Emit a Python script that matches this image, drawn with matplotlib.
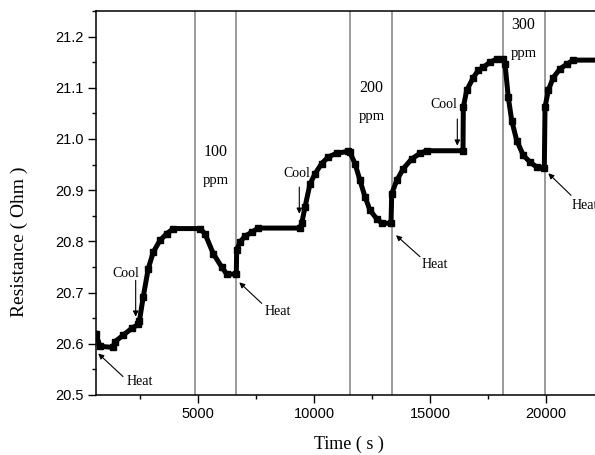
import matplotlib
matplotlib.use("Agg")
import matplotlib.pyplot as plt
from matplotlib.ticker import MultipleLocator

# resistance trace
time_s = [583, 756, 1317, 1403, 1762, 2124, 2409, 2461, 2625, 2841, 3057, 3346,
          3636, 3921, 5073, 5289, 5648, 6010, 6226, 6641, 6658, 6801, 7017, 7306,
          7591, 9391, 9465, 9607, 9823, 10039, 10328, 10613, 10976, 11477, 11550,
          11766, 11982, 12198, 12414, 12703, 12919, 13321, 13351, 13567, 13851,
          14214, 14573, 14862, 16429, 16442, 16589, 16874, 17090, 17306, 17595,
          17884, 18156, 18243, 18385, 18532, 18748, 19033, 19322, 19611, 19940,
          19970, 20112, 20328, 20617, 20907, 21192, 22400]
resistance = [20.620, 20.595, 20.593, 20.604, 20.617, 20.630, 20.638, 20.645,
              20.692, 20.747, 20.779, 20.802, 20.815, 20.825, 20.825, 20.815,
              20.776, 20.750, 20.736, 20.736, 20.783, 20.799, 20.810, 20.818,
              20.826, 20.826, 20.835, 20.867, 20.912, 20.932, 20.952, 20.965,
              20.972, 20.976, 20.974, 20.952, 20.919, 20.887, 20.861, 20.844,
              20.836, 20.835, 20.893, 20.919, 20.942, 20.961, 20.972, 20.977,
              20.977, 21.062, 21.095, 21.120, 21.134, 21.140, 21.150, 21.156,
              21.157, 21.146, 21.081, 21.036, 20.997, 20.968, 20.955, 20.945,
              20.944, 21.062, 21.095, 21.120, 21.137, 21.146, 21.154, 21.154]

# gas on / off times (grey lines)
switch_times = [4845, 6641, 11550, 13351, 18169, 19957]
conc_labels = ["100", "200", "300"]

serif = "Liberation Serif"

fig = plt.figure(figsize=(5.95, 4.55), dpi=100)
ax = fig.add_axes([0.1613, 0.1319, 0.8493, 0.8440])

for t in switch_times:
    ax.axvline(t, color="#8a8a8a", lw=1.2, zorder=1)

ax.plot(time_s, resistance, color="black", lw=3.6, solid_joinstyle="miter",
        marker="s", ms=4.5, zorder=3)

ax.set_xlim(583, 22400)
ax.set_ylim(20.5, 21.25)
ax.xaxis.set_major_locator(MultipleLocator(5000))
ax.xaxis.set_minor_locator(MultipleLocator(2500))
ax.yaxis.set_major_locator(MultipleLocator(0.1))
ax.yaxis.set_minor_locator(MultipleLocator(0.05))
ax.tick_params(which="major", direction="out", length=5.5, width=1, pad=3.5,
               labelsize=10.5, top=False, right=False)
ax.tick_params(which="minor", direction="out", length=3, width=1, top=False, right=False)
ax.set_xticks([5000, 10000, 15000, 20000])
ax.set_yticks([20.5, 20.6, 20.7, 20.8, 20.9, 21.0, 21.1, 21.2])
ax.set_yticklabels(["20.5", "20.6", "20.7", "20.8", "20.9", "21.0", "21.1", "21.2"],
                   family="Liberation Sans")
ax.set_xticklabels(["5000", "10000", "15000", "20000"], family="Liberation Sans")
ax.spines["right"].set_visible(False)
for s in ["left", "bottom", "top"]:
    ax.spines[s].set_linewidth(1.1)

ax.set_xlabel("Time ( s )", family=serif, fontsize=13, labelpad=10)
ax.set_ylabel("Resistance ( Ohm )", family=serif, fontsize=14)
ax.yaxis.set_label_coords(-0.135, 0.40)

# concentration labels
for txt, (x, y) in zip(conc_labels, [(5764, 20.974), (12487, 21.100), (19033, 21.223)]):
    ax.text(x, y, txt, family=serif, fontsize=11.5, ha="center", va="center")
    ax.text(x, y - 0.056, "ppm", family=serif, fontsize=10.5, ha="center", va="center")

arrow = dict(arrowstyle="-|>", color="black", lw=0.8, mutation_scale=8,
             shrinkA=0, shrinkB=0)

# Heat / Cool markers
notes = [
    ("Heat", (2461, 20.527), (1749, 20.536), (682, 20.581), "center"),
    ("Cool", (1857, 20.737), (2297, 20.724), (2297, 20.653), "center"),
    ("Heat", (8441, 20.664), (7737, 20.679), (6770, 20.720), "center"),
    ("Cool", (9248, 20.933), (9361, 20.906), (9361, 20.854), "center"),
    ("Heat", (15190, 20.755), (14573, 20.770), (13536, 20.812), "center"),
    ("Cool", (15609, 21.067), (16183, 21.039), (16183, 20.987), "center"),
    ("Heat", (21105, 20.870), (21092, 20.890), (20112, 20.933), "left"),
]
for txt, pos, tail, head, ha in notes:
    ax.text(pos[0], pos[1], txt, family=serif, fontsize=10, ha=ha, va="center")
    ax.annotate("", xy=head, xytext=tail, arrowprops=arrow)

fig.savefig("out.png", dpi=100)
